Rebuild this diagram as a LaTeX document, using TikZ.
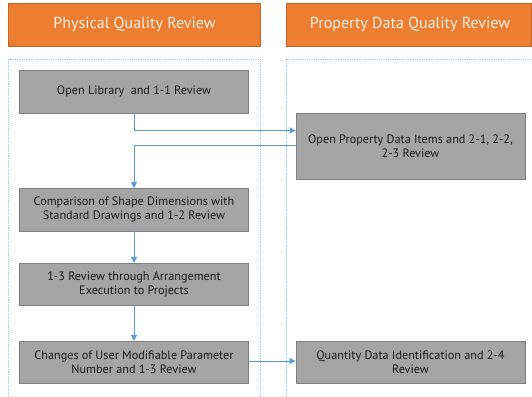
\documentclass[tikz,border=0pt]{standalone}
\usepackage{fontspec}
\setmainfont{PT Sans}
\usetikzlibrary{arrows.meta}
\definecolor{hdr}{HTML}{ED7D31}
\definecolor{hdrline}{HTML}{C8662A}
\definecolor{hdrtext}{HTML}{FDF0E6}
\definecolor{boxfill}{HTML}{A5A5A5}
\definecolor{boxline}{HTML}{7F7F7F}
\definecolor{conn}{HTML}{5B9BD5}
\definecolor{lane}{HTML}{A9C8E8}
\tikzset{
  header/.style={draw=hdrline, fill=hdr, text=hdrtext, font=\fontsize{16}{19}\selectfont, inner sep=0pt},
  stepbox/.style={draw=boxline, line width=0.8pt, fill=boxfill, text=black!90, font=\fontsize{12.2}{13.8}\selectfont, align=center, inner sep=0pt, minimum width=229pt},
  lanebox/.style={draw=lane, line width=0.8pt, densely dotted},
  conline/.style={draw=conn, line width=0.9pt},
  conarrow/.style={conline, -{Triangle[width=6pt,length=6pt]}}
}
\begin{document}
\begin{tikzpicture}[x=1pt,y=-1pt]
\useasboundingbox (0,0) rectangle (532,396);
% headers
\node[header, minimum width=252pt, minimum height=42.5pt] (h1) at (134.5,24.5) {Physical Quality Review};
\path[header] (286,3.3) rectangle (531.5,45.8);
\node[text=hdrtext, font=\fontsize{16}{19}\selectfont] (h2) at (410,24.5) {Property Data Quality Review};
% lanes
\draw[lanebox] (8.5,420) -- (8.5,59.4) -- (260,59.4) -- (260,420);
\draw[lanebox] (286,420) -- (286,59.4) -- (540,59.4);
% boxes
\node[stepbox, minimum height=42.5pt] (b1) at (134,91.8) {Open Library\ \ and 1-1 Review};
\node[stepbox, minimum height=66pt] (b2) at (410.5,146) {Open Property Data Items and 2-1, 2-2,\\2-3 Review};
\node[stepbox, minimum height=42.5pt] (b3) at (134,209.7) {Comparison of Shape Dimensions with\\Standard Drawings and 1-2 Review};
\node[stepbox, minimum height=42.5pt] (b4) at (134,284.6) {1-3 Review through Arrangement\\Execution to Projects};
\node[stepbox, minimum height=42.5pt] (b5) at (134,362.6) {Changes of User Modifiable Parameter\\Number and 1-3 Review};
\node[stepbox, minimum height=42.5pt] (b6) at (410.5,362.6) {Quantity Data Identification and 2-4\\Review};
% connectors
\coordinate (c1) at (134,130.5);
\coordinate (c2) at (134,145.3);
\draw[conarrow] (b1.south) -- (c1) -- (b2.west |- c1);
\draw[conarrow] (b2.west |- c2) -- (c2) -- (b3.north);
\draw[conarrow] (b3) -- (b4);
\draw[conarrow] (b4) -- (b5);
\draw[conarrow] (b5.east |- 0,361) -- (b6.west |- 0,361);
\end{tikzpicture}
\end{document}
